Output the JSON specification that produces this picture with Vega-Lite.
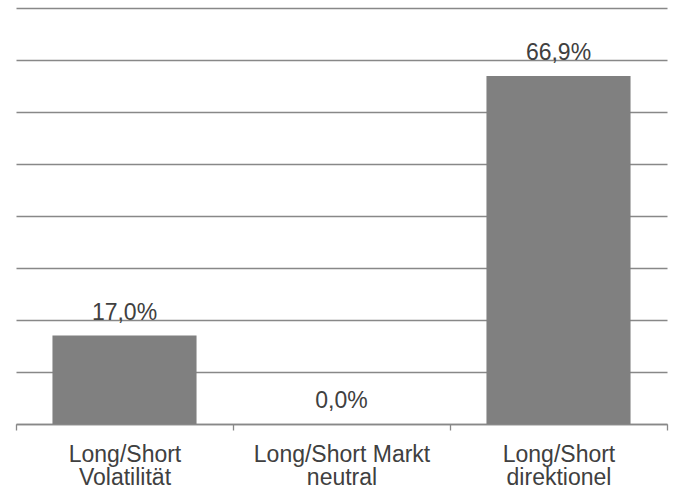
{
  "$schema": "https://vega.github.io/schema/vega-lite/v6.json",
  "autosize": {"type": "none"},
  "width": 651,
  "height": 416,
  "padding": {"left": 16, "top": 8, "right": 8, "bottom": 66},
  "background": "white",
  "config": {
    "view": {"stroke": null},
    "font": "Liberation Sans"
  },
  "data": {
    "values": [
      {"category": "Long/Short|Volatilität", "value": 17.0, "label": "17,0%"},
      {"category": "Long/Short Markt|neutral", "value": 0.0, "label": "0,0%"},
      {"category": "Long/Short|direktionel", "value": 66.9, "label": "66,9%"}
    ]
  },
  "encoding": {
    "x": {
      "field": "category",
      "type": "nominal",
      "sort": null,
      "scale": {"paddingInner": 0, "paddingOuter": 0},
      "axis": {
        "title": null,
        "labelAngle": 0,
        "labelExpr": "isString(datum.value) ? split(datum.value, '|') : ''",
        "labelFont": "Liberation Sans",
        "labelFontSize": 23,
        "labelLineHeight": 23,
        "labelColor": "#404040",
        "labelPadding": 13,
        "labelBaseline": "top",
        "tickBand": "extent",
        "tickSize": 6,
        "tickColor": "#888888",
        "tickWidth": 1.3,
        "domainColor": "#888888",
        "domainWidth": 1.3,
        "grid": false
      }
    },
    "y": {
      "field": "value",
      "type": "quantitative",
      "scale": {"domain": [0, 80], "nice": false},
      "axis": {
        "title": null,
        "labels": false,
        "ticks": false,
        "domain": false,
        "values": [0, 10, 20, 30, 40, 50, 60, 70, 80],
        "grid": true,
        "gridColor": "#888888",
        "gridWidth": 1.3
      }
    }
  },
  "layer": [
    {
      "mark": {"type": "bar", "color": "#808080", "width": {"band": 0.664}}
    },
    {
      "mark": {
        "type": "text",
        "font": "Liberation Sans",
        "fontSize": 23,
        "color": "#404040",
        "baseline": "alphabetic",
        "dy": -16
      },
      "encoding": {"text": {"field": "label"}}
    }
  ]
}
